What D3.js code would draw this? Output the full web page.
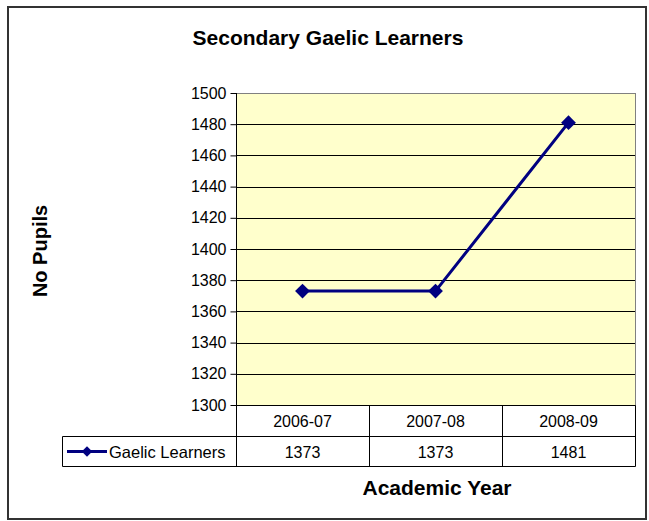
<!DOCTYPE html>
<html>
<head>
<meta charset="utf-8">
<script src="https://cdn.jsdelivr.net/npm/d3@7"></script>
<style>
  body { margin: 0; background: #fff; }
  text { font-family: "Liberation Sans", Arial, sans-serif; fill: #000; }
</style>
</head>
<body>
<svg id="chart"></svg>
<script>
const years = ['2006-07', '2007-08', '2008-09']
const learners = [1373, 1373, 1481]
const seriesName = 'Gaelic Learners'
const yTicks = [1300, 1320, 1340, 1360, 1380, 1400, 1420, 1440, 1460, 1480, 1500]

const width = 649
const height = 521
const plotLeft = 236
const plotRight = 635
const plotTop = 93
const plotBottom = 405
const rowH = 30
const lineColor = '#000080'

const svg = d3.select('#chart')
  .attr('width', width)
  .attr('height', height)

// outer frame
svg.append('rect')
  .attr('x', 8).attr('y', 7)
  .attr('width', 638).attr('height', 512)
  .attr('fill', '#fff')
  .attr('stroke', '#333')
  .attr('stroke-width', 2)

const x = d3.scaleBand()
  .domain(years)
  .range([plotLeft, plotRight])

const y = d3.scaleLinear()
  .domain([1300, 1500])
  .range([plotBottom, plotTop])

// plot area
svg.append('rect')
  .attr('x', plotLeft).attr('y', plotTop)
  .attr('width', plotRight - plotLeft).attr('height', plotBottom - plotTop)
  .attr('fill', '#ffffcc')

svg.append('g')
  .selectAll('line')
  .data(yTicks.slice(1, -1))
  .join('line')
  .attr('x1', plotLeft).attr('x2', plotRight)
  .attr('y1', d => Math.round(y(d)) + 0.5)
  .attr('y2', d => Math.round(y(d)) + 0.5)
  .attr('stroke', '#000')

svg.append('rect')
  .attr('x', plotLeft + 0.5).attr('y', plotTop + 0.5)
  .attr('width', plotRight - plotLeft).attr('height', plotBottom - plotTop)
  .attr('fill', 'none')
  .attr('stroke', '#808080')

// y axis
const yAxis = svg.append('g')
  .attr('transform', `translate(${plotLeft + 0.5},0)`)
  .call(d3.axisLeft(y).tickValues(yTicks).tickSize(6).tickPadding(4).tickFormat(d3.format('d')))
yAxis.select('.domain').attr('stroke', '#000').attr('d', `M0,${plotTop}V${plotBottom}`)
yAxis.selectAll('.tick line').attr('stroke', '#000')
yAxis.selectAll('text')
  .style('font-size', '16px')
  .style('font-family', '"Liberation Sans", Arial, sans-serif')
  .attr('fill', '#000')

// data table
const table = svg.append('g')
const tTop = plotBottom + 0.5
const tMid = tTop + 31
const tBot = tMid + rowH

table.append('path')
  .attr('d', [
    `M${plotLeft + 0.5},${tTop}V${tBot}`,
    ...years.map(d => `M${x(d) + x.bandwidth() + 0.5},${tTop}V${tBot}`),
    `M62.5,${tMid}H${plotRight + 0.5}`,
    `M62.5,${tBot}H${plotRight + 0.5}`,
    `M62.5,${tMid}V${tBot}`,
    `M${plotLeft},${tTop}H${plotRight + 0.5}`
  ].join(''))
  .attr('fill', 'none')
  .attr('stroke', '#000')

table.selectAll('text.year')
  .data(years)
  .join('text')
  .attr('class', 'year')
  .attr('x', d => x(d) + x.bandwidth() / 2)
  .attr('y', (tTop + tMid) / 2 + 6)
  .attr('text-anchor', 'middle')
  .style('font-size', '16px')
  .text(d => d)

table.selectAll('text.val')
  .data(learners)
  .join('text')
  .attr('class', 'val')
  .attr('x', (d, i) => x(years[i]) + x.bandwidth() / 2)
  .attr('y', (tMid + tBot) / 2 + 6)
  .attr('text-anchor', 'middle')
  .style('font-size', '16px')
  .text(d => d)

// legend key in table
const keyY = (tMid + tBot) / 2
table.append('line')
  .attr('x1', 67).attr('x2', 107)
  .attr('y1', keyY).attr('y2', keyY)
  .attr('stroke', lineColor).attr('stroke-width', 3)
table.append('path')
  .attr('d', d3.symbol(d3.symbolDiamond2, 70)())
  .attr('transform', `translate(87,${keyY})`)
  .attr('fill', lineColor)
table.append('text')
  .attr('x', 109).attr('y', keyY + 6)
  .style('font-size', '16.5px')
  .text(seriesName)

// series line
const line = d3.line()
  .x((d, i) => x(years[i]) + x.bandwidth() / 2)
  .y(d => y(d))

svg.append('path')
  .datum(learners)
  .attr('d', line)
  .attr('fill', 'none')
  .attr('stroke', lineColor)
  .attr('stroke-width', 3)

svg.append('g')
  .selectAll('path')
  .data(learners)
  .join('path')
  .attr('d', d3.symbol(d3.symbolDiamond2, 140)())
  .attr('transform', (d, i) => `translate(${x(years[i]) + x.bandwidth() / 2},${y(d)})`)
  .attr('fill', lineColor)

// titles
svg.append('text')
  .attr('x', 328).attr('y', 45)
  .attr('text-anchor', 'middle')
  .style('font-size', '21px').style('font-weight', 'bold')
  .text('Secondary Gaelic Learners')

svg.append('text')
  .attr('transform', 'translate(47,251) rotate(-90)')
  .attr('text-anchor', 'middle')
  .style('font-size', '20px').style('font-weight', 'bold')
  .text('No Pupils')

svg.append('text')
  .attr('x', 437).attr('y', 495)
  .attr('text-anchor', 'middle')
  .style('font-size', '21px').style('font-weight', 'bold')
  .text('Academic Year')
</script>
</body>
</html>
